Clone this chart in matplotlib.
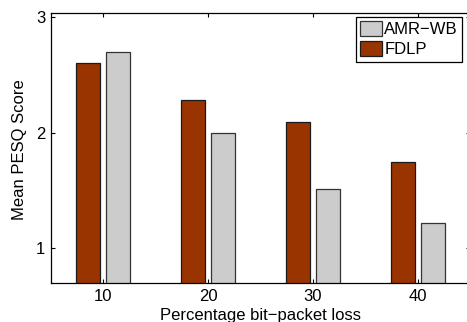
import matplotlib
matplotlib.use("Agg")
import matplotlib.pyplot as plt
import numpy as np
from matplotlib.patches import Patch

categories = ["10", "20", "30", "40"]
fdlp = [2.60, 2.28, 2.09, 1.75]
amr_wb = [2.70, 1.995, 1.515, 1.215]
yticks = [1, 2, 3]

plt.rcParams['font.family'] = ['Liberation Sans', 'DejaVu Sans']
plt.rcParams['font.size'] = 12

fig = plt.figure(figsize=(4.67, 3.22), dpi=100)
ax = fig.add_axes([51/467, 39/322, 419/467, 270.3/322])

x = np.arange(1, len(categories) + 1)
off = 0.143
w = 0.23
ax.bar(x - off, fdlp, width=w, color='#993300', edgecolor='#1a1a1a', linewidth=0.9, zorder=2)
ax.bar(x + off, amr_wb, width=w, color='#cccccc', edgecolor='#333333', linewidth=0.9, zorder=2)

ax.set_xlim(0.5, 4.5)
ax.set_ylim(0.70, 3.037)
ax.set_xticks(x)
ax.set_xticklabels(categories)
ax.set_yticks(yticks)
ax.set_yticklabels([str(v) for v in yticks])
ax.tick_params(direction='in', length=3, width=0.8, top=True, right=True, pad=4, labelsize=12)
for s in ax.spines.values():
    s.set_linewidth(0.9)
    s.set_zorder(3)

ax.set_xlabel("Percentage bit\u2212packet loss", fontsize=12)
ax.set_ylabel("Mean PESQ Score", fontsize=12)
ax.xaxis.set_label_coords(0.499, -0.093)
ax.yaxis.set_label_coords(-0.058, 0.494)

handles = [Patch(facecolor='#cccccc', edgecolor='#333333', linewidth=0.9),
           Patch(facecolor='#993300', edgecolor='#1a1a1a', linewidth=0.9)]
leg = fig.legend(handles, ["AMR\u2212WB", "FDLP"], loc='upper right',
                 bbox_to_anchor=(462/467, 1 - 17/322), fontsize=12,
                 handlelength=1.3, handleheight=0.95, handletextpad=0.15,
                 borderpad=0.25, borderaxespad=0, labelspacing=0.26,
                 fancybox=False, framealpha=1, edgecolor='black')
leg.get_frame().set_linewidth(0.9)

fig.savefig("out.png", dpi=100)
